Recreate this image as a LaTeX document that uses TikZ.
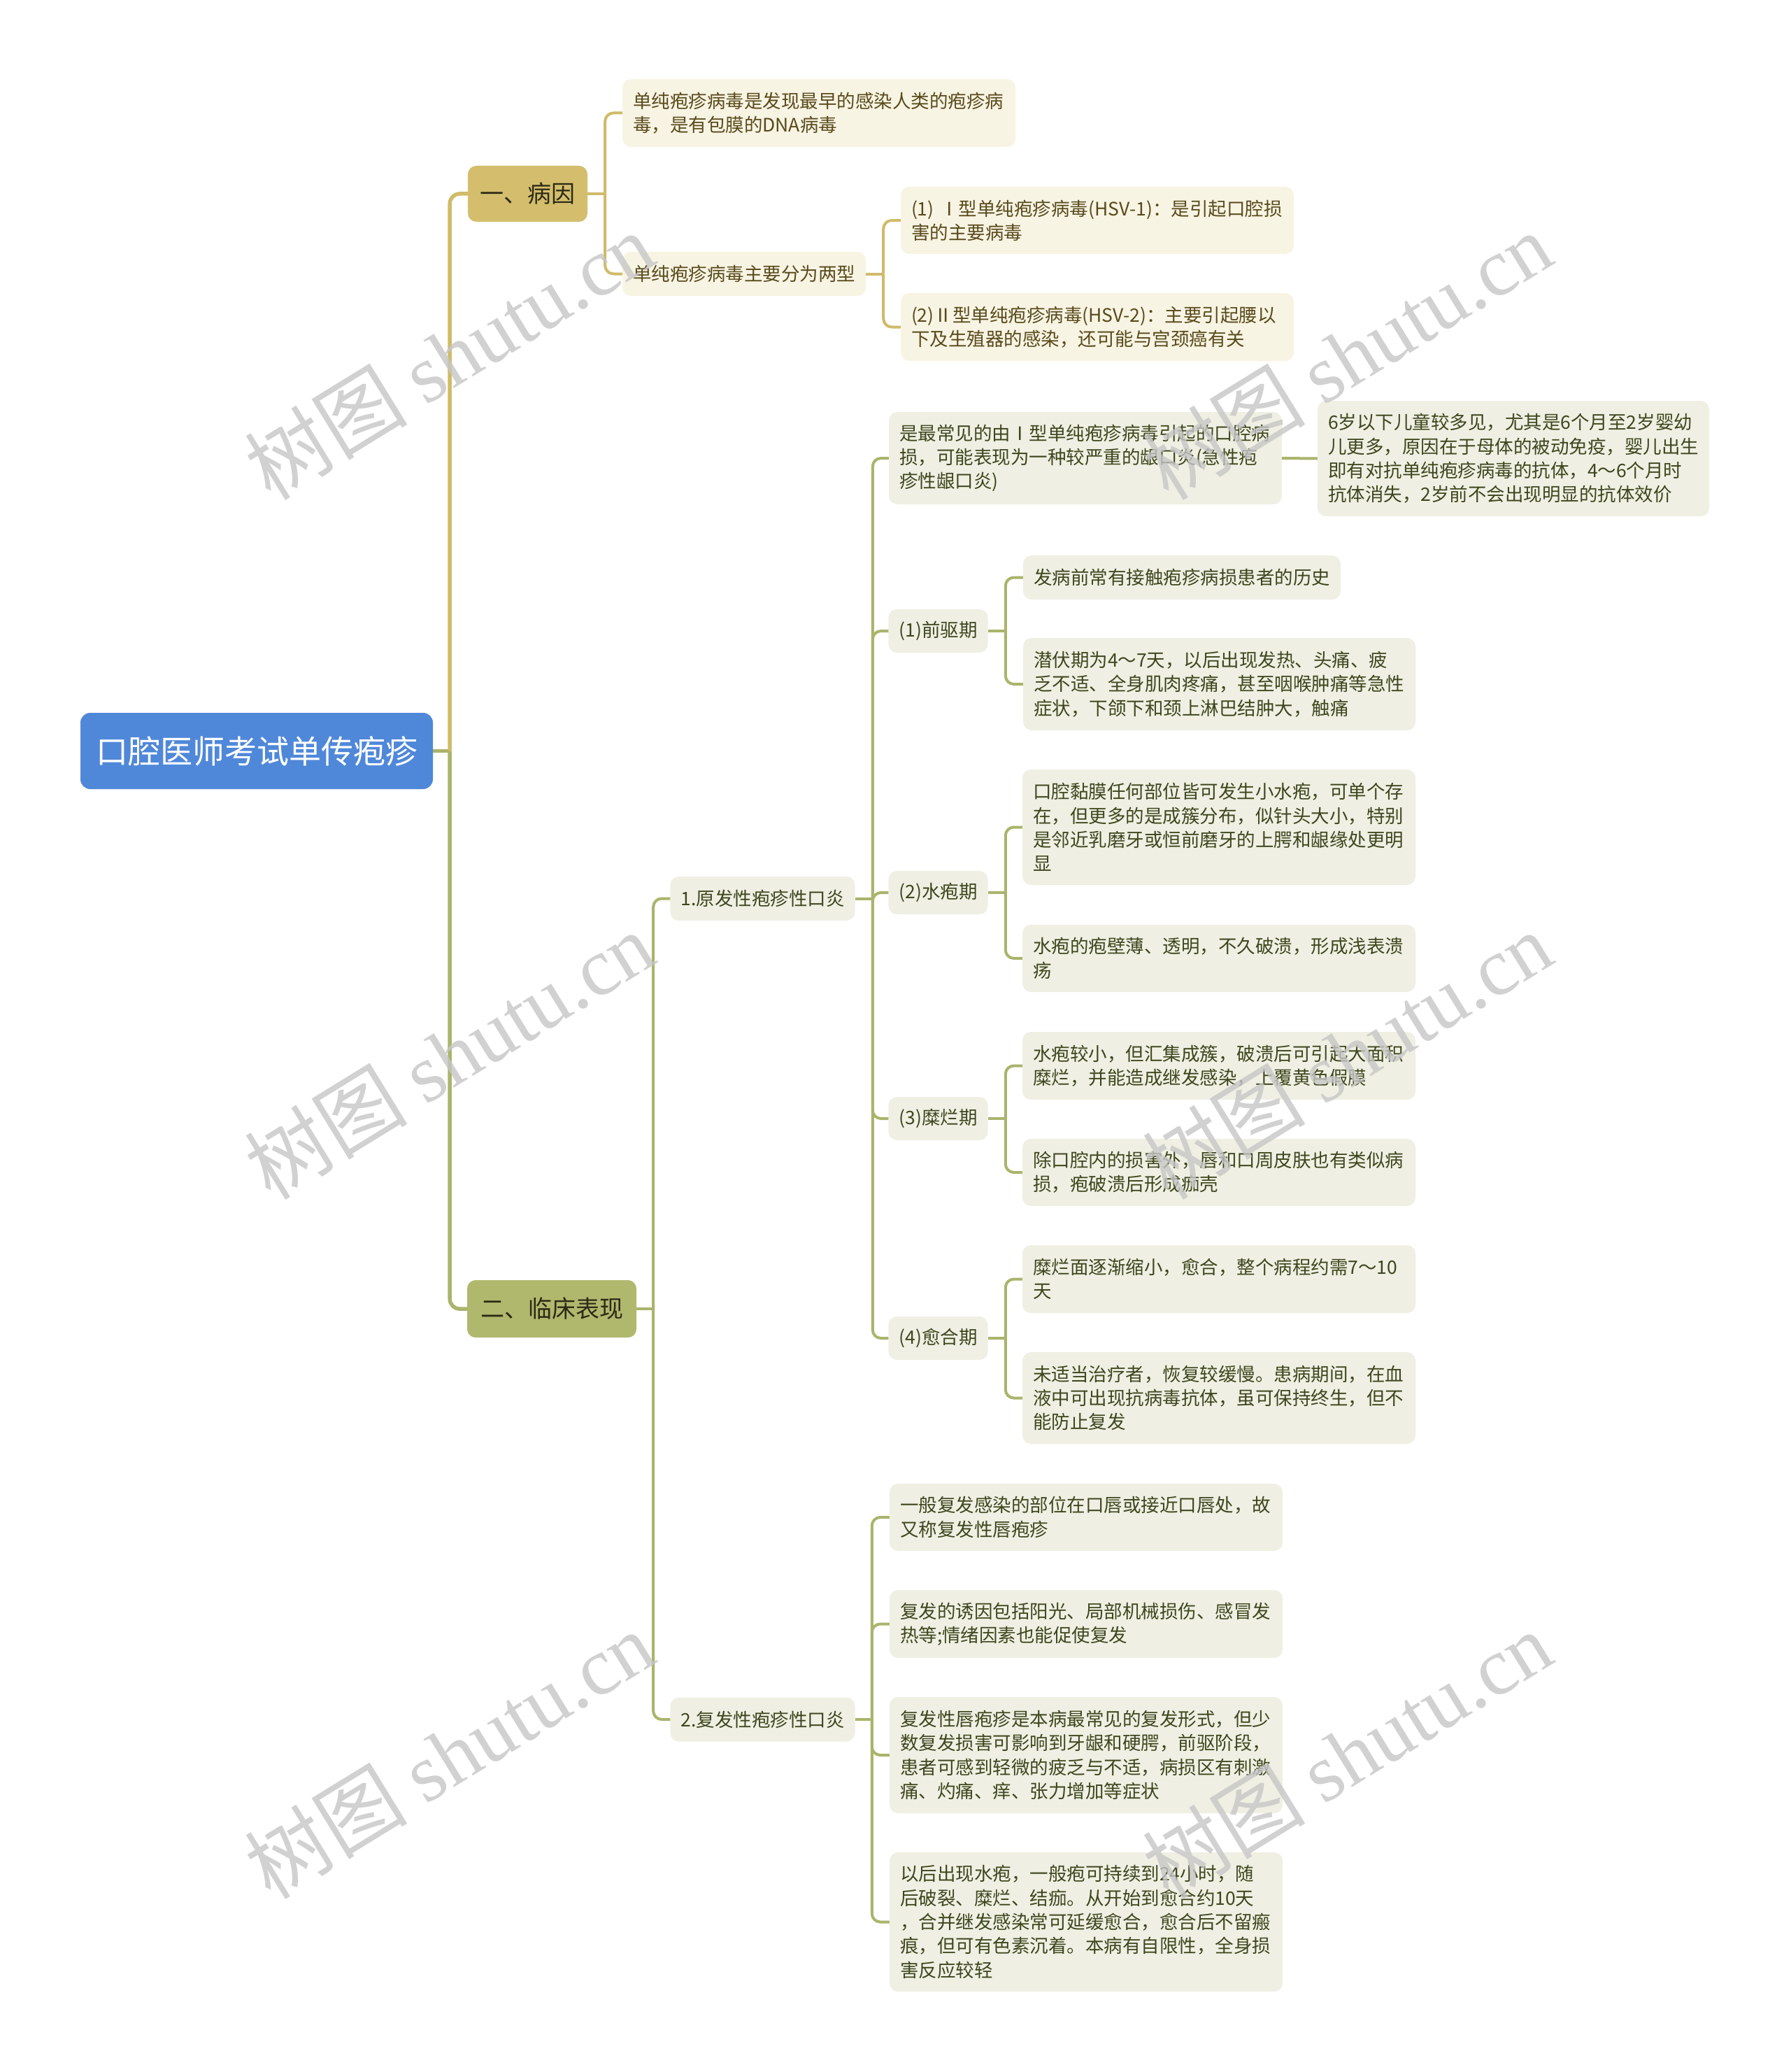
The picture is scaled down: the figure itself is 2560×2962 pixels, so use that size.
\documentclass[tikz,border=0pt]{standalone}
\usepackage{fontspec}
\setmainfont{Noto Sans CJK SC}
\newfontfamily\wmlat{Liberation Serif}
\definecolor{rootfill}{RGB}{80,136,217}
\definecolor{goldfill}{RGB}{212,190,110}
\definecolor{olivefill}{RGB}{176,184,110}
\definecolor{goldline}{RGB}{208,187,106}
\definecolor{oliveline}{RGB}{170,180,108}
\definecolor{creamA}{RGB}{248,244,227}
\definecolor{creamB}{RGB}{239,240,227}
\definecolor{textA}{RGB}{88,74,28}
\definecolor{textB}{RGB}{62,70,30}
\definecolor{textL}{RGB}{45,42,20}
\definecolor{wmcol}{RGB}{198,198,198}
\newcommand\fsleaf{\fontsize{26.5}{34.3}\selectfont}
\newcommand\fslvl{\fontsize{34}{40}\selectfont}
\newcommand\fsroot{\fontsize{46}{54}\selectfont}
\newcommand\fswm{\fontsize{117}{122}\selectfont}
\tikzset{
  base/.style={rounded corners=12pt, inner ysep=2pt, inner xsep=15pt, anchor=center, align=left},
  leafA/.style={base, fill=creamA, text=textA, font=\fsleaf},
  leafB/.style={base, fill=creamB, text=textB, font=\fsleaf},
  rootbox/.style={rounded corners=14pt, fill=rootfill, text=white, font=\fsroot, anchor=center, inner sep=0pt},
  lvlA/.style={rounded corners=12pt, fill=goldfill, text=textL, font=\fslvl, anchor=center, inner sep=0pt},
  lvlB/.style={rounded corners=12pt, fill=olivefill, text=textL, font=\fslvl, anchor=center, inner sep=0pt},
  conA/.style={draw=goldline, line width=4pt, rounded corners=12pt},
  conB/.style={draw=oliveline, line width=4pt, rounded corners=12pt},
  trunkA/.style={draw=goldline, line width=5.5pt, rounded corners=14pt},
  trunkB/.style={draw=oliveline, line width=5.5pt, rounded corners=14pt},
  wmk/.style={text=wmcol, text opacity=0.8, font=\fswm, anchor=center, inner sep=0pt}
}
\begin{document}
\begin{tikzpicture}[x=1pt,y=-1pt]
\useasboundingbox[fill=white] (0,0) rectangle (2560,2962);

% root and level 1
\node[rootbox, minimum width=504pt, minimum height=109pt] (root) at (367,1073.5) {口腔医师考试单传疱疹};
\node[lvlA, minimum width=171pt, minimum height=80pt] (L1a) at (754.5,277) {一、病因};
\node[lvlB, minimum width=242pt, minimum height=82pt] (L1b) at (789,1871) {二、临床表现};

% branch A
\node[leafA, text width=532pt, minimum height=97pt] (A1) at (1171,161.5) {单纯疱疹病毒是发现最早的感染人类的疱疹病\\毒，是有包膜的DNA病毒};
\node[leafA, minimum width=348pt, minimum height=63pt] (A2) at (1064,391.5) {单纯疱疹病毒主要分为两型};
\node[leafA, text width=532pt, minimum height=96pt] (A21) at (1569,315) {(1) Ⅰ型单纯疱疹病毒(HSV-1)：是引起口腔损\\害的主要病毒};
\node[leafA, text width=532pt, minimum height=97pt] (A22) at (1569,467.5) {(2)Ⅱ型单纯疱疹病毒(HSV-2)：主要引起腰以\\下及生殖器的感染，还可能与宫颈癌有关};

% branch B
\node[leafB, minimum width=264pt, minimum height=63pt] (B1) at (1090.5,1284.5) {1.原发性疱疹性口炎};
\node[leafB, minimum width=264pt, minimum height=63pt] (B2) at (1090.5,2458) {2.复发性疱疹性口炎};

\node[leafB, text width=532pt, minimum height=132pt] (B1a) at (1552,655) {是最常见的由Ⅰ型单纯疱疹病毒引起的口腔病\\损，可能表现为一种较严重的龈口炎(急性疱\\疹性龈口炎)};
\node[leafB, text width=530pt, minimum height=165pt] (B1a1) at (2164,655.5) {6岁以下儿童较多见，尤其是6个月至2岁婴幼\\儿更多，原因在于母体的被动免疫，婴儿出生\\即有对抗单纯疱疹病毒的抗体，4～6个月时\\抗体消失，2岁前不会出现明显的抗体效价};

\node[leafB, minimum width=141pt, minimum height=62pt] (B1b) at (1341.5,902) {(1)前驱期};
\node[leafB, minimum width=454pt, minimum height=63pt] (B1b1) at (1690,825.5) {发病前常有接触疱疹病损患者的历史};
\node[leafB, text width=531pt, minimum height=132pt] (B1b2) at (1743.5,978) {潜伏期为4～7天，以后出现发热、头痛、疲\\乏不适、全身肌肉疼痛，甚至咽喉肿痛等急性\\症状，下颌下和颈上淋巴结肿大，触痛};

\node[leafB, minimum width=141pt, minimum height=62pt] (B1c) at (1341.5,1276) {(2)水疱期};
\node[leafB, text width=532pt, minimum height=165pt] (B1c1) at (1743,1182.5) {口腔黏膜任何部位皆可发生小水疱，可单个存\\在，但更多的是成簇分布，似针头大小，特别\\是邻近乳磨牙或恒前磨牙的上腭和龈缘处更明\\显};
\node[leafB, text width=532pt, minimum height=96pt] (B1c2) at (1743,1370) {水疱的疱壁薄、透明，不久破溃，形成浅表溃\\疡};

\node[leafB, minimum width=141pt, minimum height=62pt] (B1d) at (1341.5,1599) {(3)糜烂期};
\node[leafB, text width=532pt, minimum height=97pt] (B1d1) at (1743,1523.5) {水疱较小，但汇集成簇，破溃后可引起大面积\\糜烂，并能造成继发感染，上覆黄色假膜};
\node[leafB, text width=532pt, minimum height=96pt] (B1d2) at (1743,1676) {除口腔内的损害外，唇和口周皮肤也有类似病\\损，疱破溃后形成痂壳};

\node[leafB, minimum width=141pt, minimum height=62pt] (B1e) at (1341.5,1913) {(4)愈合期};
\node[leafB, text width=532pt, minimum height=97pt] (B1e1) at (1743,1828.5) {糜烂面逐渐缩小，愈合，整个病程约需7～10\\天};
\node[leafB, text width=532pt, minimum height=131pt] (B1e2) at (1743,1998.5) {未适当治疗者，恢复较缓慢。患病期间，在血\\液中可出现抗病毒抗体，虽可保持终生，但不\\能防止复发};

\node[leafB, text width=532pt, minimum height=96pt] (B2a) at (1553,2169) {一般复发感染的部位在口唇或接近口唇处，故\\又称复发性唇疱疹};
\node[leafB, text width=532pt, minimum height=97pt] (B2b) at (1553,2321.5) {复发的诱因包括阳光、局部机械损伤、感冒发\\热等;情绪因素也能促使复发};
\node[leafB, text width=532pt, minimum height=166pt] (B2c) at (1553,2509) {复发性唇疱疹是本病最常见的复发形式，但少\\数复发损害可影响到牙龈和硬腭，前驱阶段，\\患者可感到轻微的疲乏与不适，病损区有刺激\\痛、灼痛、痒、张力增加等症状};
\node[leafB, text width=532pt, minimum height=199pt] (B2d) at (1553,2747.5) {以后出现水疱，一般疱可持续到24小时，随\\后破裂、糜烂、结痂。从开始到愈合约10天\\，合并继发感染常可延缓愈合，愈合后不留瘢\\痕，但可有色素沉着。本病有自限性，全身损\\害反应较轻};

% connectors: trunk
\draw[trunkB] (root.east) -- ++(24,0) coordinate (j0);
\draw[trunkA] (j0) |- (L1a.west);
\draw[trunkB] (j0) |- (L1b.west);

% branch A connectors
\draw[conA] (L1a.east) -- ++(25,0) coordinate (ja);
\draw[conA] (ja) |- (A1.west);
\draw[conA] (ja) |- (A2.west);
\draw[conA] (A2.east) -- ++(25,0) coordinate (ja2);
\draw[conA] (ja2) |- (A21.west);
\draw[conA] (ja2) |- (A22.west);

% branch B connectors
\draw[conB] (L1b.east) -- ++(24,0) coordinate (jb);
\draw[conB] (jb) |- (B1.west);
\draw[conB] (jb) |- (B2.west);

\draw[conB] (B1.east) -- ++(25,0) coordinate (jb1);
\draw[conB] (jb1) |- (B1a.west);
\draw[conB] (jb1) |- (B1b.west);
\draw[conB] (jb1) |- (B1c.west);
\draw[conB] (jb1) |- (B1d.west);
\draw[conB] (jb1) |- (B1e.west);
\draw[conB] (B1a.east) -- (B1a1.west);

\draw[conB] (B1b.east) -- ++(25,0) coordinate (jbb);
\draw[conB] (jbb) |- (B1b1.west);
\draw[conB] (jbb) |- (B1b2.west);
\draw[conB] (B1c.east) -- ++(25,0) coordinate (jbc);
\draw[conB] (jbc) |- (B1c1.west);
\draw[conB] (jbc) |- (B1c2.west);
\draw[conB] (B1d.east) -- ++(25,0) coordinate (jbd);
\draw[conB] (jbd) |- (B1d1.west);
\draw[conB] (jbd) |- (B1d2.west);
\draw[conB] (B1e.east) -- ++(25,0) coordinate (jbe);
\draw[conB] (jbe) |- (B1e1.west);
\draw[conB] (jbe) |- (B1e2.west);

\draw[conB] (B2.east) -- ++(24,0) coordinate (jb2);
\draw[conB] (jb2) |- (B2a.west);
\draw[conB] (jb2) |- (B2b.west);
\draw[conB] (jb2) |- (B2c.west);
\draw[conB] (jb2) |- (B2d.west);

% watermarks
\node[wmk, rotate=31.6] (w1) at (642,508) {树图 {\wmlat shutu.cn}};
\node[wmk, rotate=31.6] (w2) at (642,1508) {树图 {\wmlat shutu.cn}};
\node[wmk, rotate=31.6] (w3) at (642,2508) {树图 {\wmlat shutu.cn}};
\node[wmk, rotate=31.6] (w4) at (1926,508) {树图 {\wmlat shutu.cn}};
\node[wmk, rotate=31.6] (w5) at (1926,1508) {树图 {\wmlat shutu.cn}};
\node[wmk, rotate=31.6] (w6) at (1926,2508) {树图 {\wmlat shutu.cn}};
\end{tikzpicture}
\end{document}
